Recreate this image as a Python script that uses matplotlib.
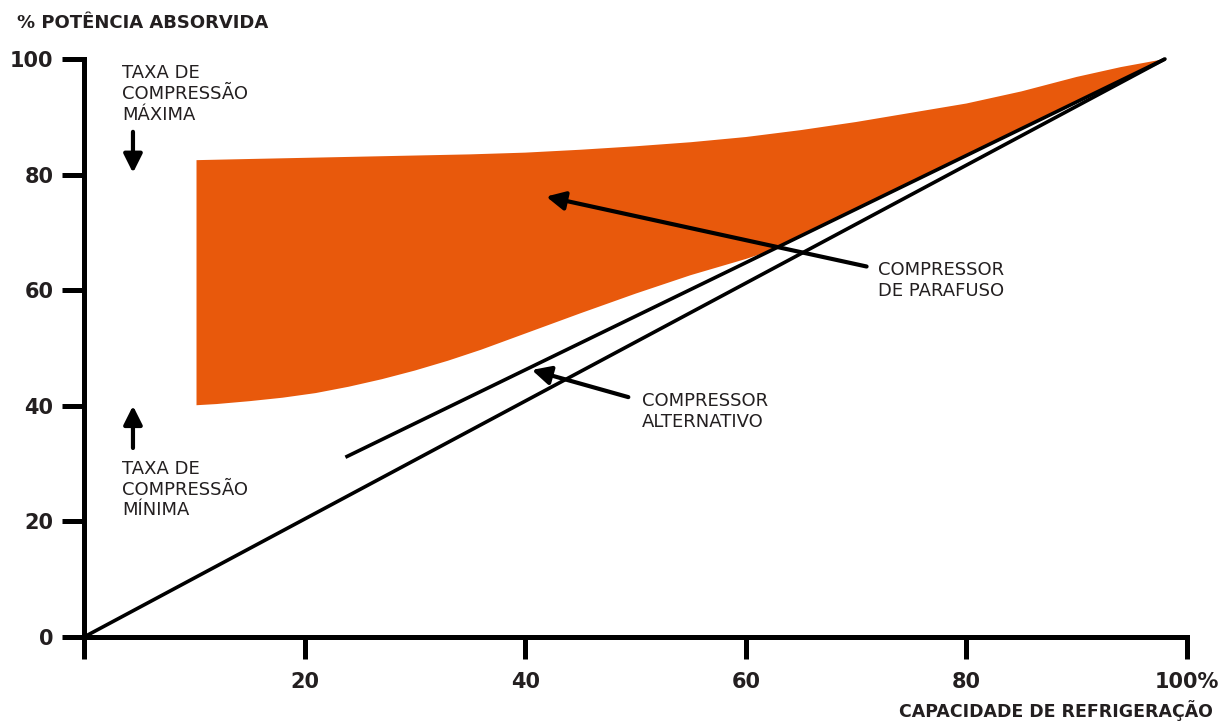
import matplotlib.pyplot as plt
import numpy as np

# Data (x = % capacidade, y = % potência)
screw_upper_x = [10.2, 15, 20, 25, 30, 35, 40, 45, 50, 55, 60, 65, 70, 75, 80, 85, 90, 94, 98]
screw_upper_y = [82.5, 82.7, 82.9, 83.1, 83.3, 83.5, 83.8, 84.3, 84.9, 85.6, 86.5, 87.7,
                 89.1, 90.7, 92.3, 94.4, 96.9, 98.6, 100.0]
screw_lower_x = [10.2, 12, 15, 18, 21, 24, 27, 30, 33, 36, 40, 45, 50, 55, 60, 62.2,
                 70, 80, 90, 98]
screw_lower_y = [40.1, 40.3, 40.8, 41.4, 42.2, 43.3, 44.6, 46.1, 47.8, 49.7, 52.5, 56.0,
                 59.4, 62.6, 65.4, 66.8, 74.1, 83.4, 92.6, 100.0]

recip_x = [0, 98]
recip_y = [0, 100]
recip_top_x = [23.7, 98]
recip_top_y = [31.1, 100]

x_ticks = [0, 20, 40, 60, 80, 100]
x_labels = ['', '20', '40', '60', '80', '100%']
y_ticks = [0, 20, 40, 60, 80, 100]
y_labels = ['0', '20', '40', '60', '80', '100']

ORANGE = '#e8590c'
TEXT = '#231f20'

fig = plt.figure(figsize=(12.27, 7.22), dpi=100)
ax = fig.add_axes([84 / 1227, 85 / 722, 1103 / 1227, 578 / 722])

# Orange band for screw compressor
poly_x = np.concatenate([screw_upper_x, screw_lower_x[::-1]])
poly_y = np.concatenate([screw_upper_y, screw_lower_y[::-1]])
ax.fill(poly_x, poly_y, color=ORANGE, lw=0, zorder=1)

# Reciprocating compressor lines
ax.plot(recip_x, recip_y, color='black', lw=2.6, solid_capstyle='round', zorder=3, clip_on=False)
ax.plot(recip_top_x, recip_top_y, color='black', lw=2.6, solid_capstyle='butt', zorder=3, clip_on=False)

ax.set_xlim(0, 100)
ax.set_ylim(0, 100)

# Axes styling
for side in ['top', 'right']:
    ax.spines[side].set_visible(False)
for side in ['left', 'bottom']:
    ax.spines[side].set_linewidth(3.6)
    ax.spines[side].set_capstyle('projecting')

ax.set_xticks(x_ticks)
ax.set_xticklabels(x_labels)
ax.set_yticks(y_ticks)
ax.set_yticklabels(y_labels)
ax.tick_params(axis='both', direction='out', length=16, width=3.6, colors='black',
               labelcolor=TEXT, labelsize=15)
ax.tick_params(axis='x', pad=9)
ax.tick_params(axis='y', pad=6)
for lab in ax.get_xticklabels() + ax.get_yticklabels():
    lab.set_fontweight('bold')

# Axis titles
fig.text(17 / 1227, 1 - 23.5 / 722, '% POTÊNCIA ABSORVIDA', fontsize=13,
         fontweight='bold', color=TEXT, ha='left', va='center')
fig.text(1213 / 1227, 1 - 711 / 722, 'CAPACIDADE DE REFRIGERAÇÃO', fontsize=12.5,
         fontweight='bold', color=TEXT, ha='right', va='center')

# Annotations
arrow = dict(arrowstyle='-|>', lw=3, color='black', mutation_scale=28, shrinkA=0, shrinkB=0)

ax.text(3.45, 93.9, 'TAXA DE\nCOMPRESSÃO\nMÁXIMA', fontsize=13, color=TEXT,
        ha='left', va='center')
ax.annotate('', xy=(4.44, 80.3), xytext=(4.44, 87.4), arrowprops=arrow)

ax.text(3.45, 25.5, 'TAXA DE\nCOMPRESSÃO\nMÍNIMA', fontsize=13, color=TEXT,
        ha='left', va='center')
ax.annotate('', xy=(4.44, 40.0), xytext=(4.44, 32.7), arrowprops=arrow)

ax.text(72.0, 61.7, 'COMPRESSOR\nDE PARAFUSO', fontsize=13, color=TEXT,
        ha='left', va='center')
ax.annotate('', xy=(41.9, 76.2), xytext=(70.95, 64.1), arrowprops=arrow, zorder=4)

ax.text(50.6, 39.0, 'COMPRESSOR\nALTERNATIVO', fontsize=13, color=TEXT,
        ha='left', va='center')
ax.annotate('', xy=(40.6, 46.2), xytext=(49.35, 41.5), arrowprops=arrow, zorder=4)

fig.savefig('out.png', dpi=100)
